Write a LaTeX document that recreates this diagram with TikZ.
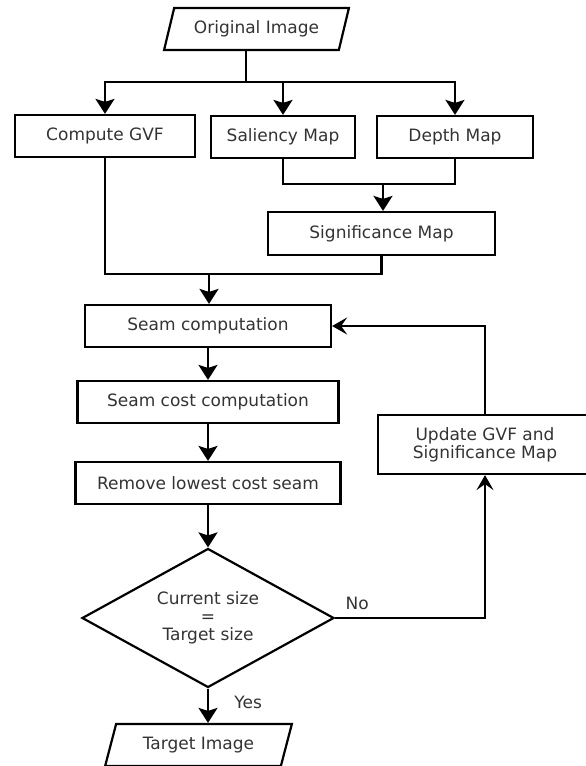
\documentclass[tikz,border=0pt]{standalone}
\usepackage{fontspec}
\setmainfont{DejaVu Sans}
\usetikzlibrary{arrows.meta,shapes.geometric}

\begin{document}
\begin{tikzpicture}[x=1pt, y=-1pt, line width=2.2pt, font=\fontsize{17}{18}\selectfont,
	box/.style={draw, rectangle, inner sep=0pt, text=black!80, align=center},
	io/.style={draw, trapezium, trapezium left angle=65, trapezium right angle=115, trapezium stretches=true, inner sep=0pt, text=black!80},
	decision/.style={draw, diamond, aspect=1.8, inner sep=0pt, text=black!80, align=center},
	flow/.style={-{Stealth[length=15pt,width=19pt,inset=3pt]}},
	loopback/.style={-{Stealth[length=15pt,width=17pt,inset=6pt]}}]
	\useasboundingbox (0,0) rectangle (586,766);
	% inputs and maps
	\node[io, minimum width=185pt, minimum height=42pt] (orig) at (256.5,29) {Original Image};
	\node[box, minimum width=180pt, minimum height=42pt] (gvf) at (105,136) {Compute GVF};
	\node[box, minimum width=144pt, minimum height=42pt] (sal) at (283,137) {Saliency Map};
	\node[box, minimum width=156pt, minimum height=42pt] (depth) at (455,137) {Depth Map};
	\node[box, minimum width=227pt, minimum height=43pt] (sig) at (381.5,233.5) {Significance Map};
	% seam carving loop
	\node[box, minimum width=246pt, minimum height=42pt] (seam) at (208,326) {Seam computation};
	\node[box, minimum width=261pt, minimum height=42pt] (cost) at (208,402) {Seam cost computation};
	\node[box, minimum width=265pt, minimum height=42pt] (remove) at (208,483) {Remove lowest cost seam};
	\node[decision, minimum width=252pt, minimum height=139pt] (dec) at (208,618) {Current size\\=\\Target size};
	\node[box, minimum width=214pt, minimum height=59pt] (update) at (485,444.5) {Update GVF and\\Significance Map};
	\node[io, minimum width=187pt, minimum height=42pt] (target) at (198.5,745) {Target Image};

	\coordinate (split) at (246,82);
	\coordinate (mapjoin) at (383,184);
	\coordinate (seamjoin) at (209,274);

	\draw (split |- orig.south) -- (split);
	\draw[flow] (split) -| (gvf);
	\draw[flow] (split) -| (sal);
	\draw[flow] (split) -| (depth);
	\draw (sal.south) |- (mapjoin) -| (depth.south);
	\draw[flow] (mapjoin) -- (mapjoin |- sig.north);
	\draw (gvf.south) |- (seamjoin) -| (sig.south);
	\draw[flow] (seamjoin) -- (seamjoin |- seam.north);
	\draw[flow] (seam) -- (cost);
	\draw[flow] (cost) -- (remove);
	\draw[flow] (remove) -- (dec);
	\draw[flow] (dec.south) -- (dec.south |- target.north)
	  node[pos=0.4, right=22pt, text=black!80] (yes) {Yes};
	\draw[loopback] (dec.east) -| (update.south)
	  node[pos=0.02, anchor=south west, yshift=4pt, text=black!80] (no) {No};
	\draw[loopback] (update.north) |- (seam.east);
\end{tikzpicture}
\end{document}
